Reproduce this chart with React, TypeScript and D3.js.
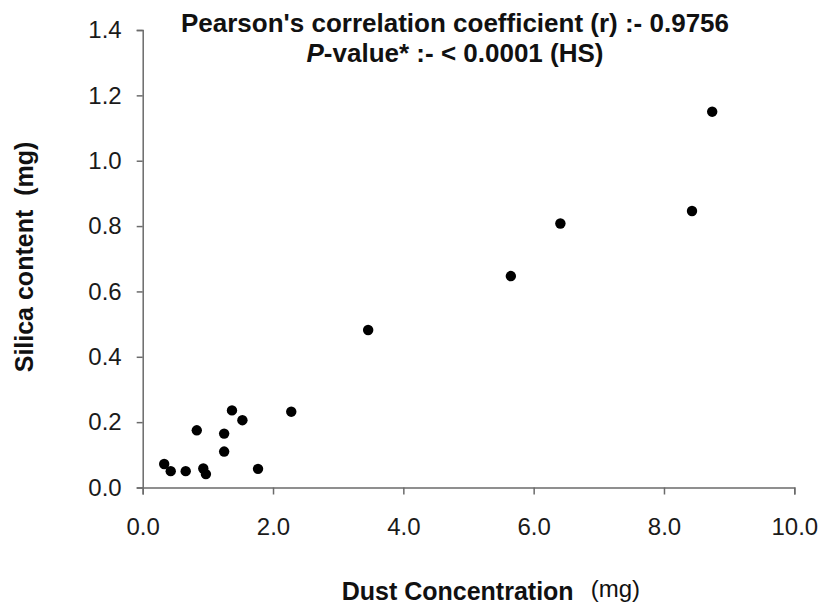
import React, { useEffect, useRef } from "react";
import * as d3 from "d3";

// dust concentration (mg) vs silica content (mg)
const dustConc = [
  0.33, 0.43, 0.66, 0.83, 0.93, 0.97, 1.25, 1.25, 1.37, 1.53, 1.77, 2.28,
  3.46, 5.65, 6.41, 8.43, 8.74,
];
const silica = [
  0.072, 0.05, 0.05, 0.175, 0.058, 0.041, 0.165, 0.11, 0.236, 0.206, 0.057,
  0.232, 0.482, 0.647, 0.808, 0.846, 1.15,
];
const xTicks = [0, 2, 4, 6, 8, 10];
const yTicks = [0, 0.2, 0.4, 0.6, 0.8, 1.0, 1.2, 1.4];

const App = () => {
  const svgRef = useRef<SVGSVGElement>(null);

  useEffect(() => {
    const width = 822;
    const height = 604;
    const font = "'Liberation Sans', Arial, sans-serif";
    const axisColor = "#6b6b6b";

    const x = d3.scaleLinear([0, 10], [142.7, 794.3]);
    const y = d3.scaleLinear([0, 1.4], [487.5, 30]);

    const svg = d3.select(svgRef.current);
    svg.selectAll("*").remove();
    svg.attr("width", width).attr("height", height);

    // x axis
    svg
      .append("g")
      .attr("transform", `translate(0,${y(0)})`)
      .call(
        d3
          .axisBottom(x)
          .tickValues(xTicks)
          .tickFormat(d3.format(".1f"))
          .tickSizeOuter(0)
          .tickSize(7)
          .tickPadding(23)
      )
      .call((g) => g.select(".domain").attr("stroke", axisColor).attr("stroke-width", 1.5))
      .call((g) => g.selectAll(".tick line").attr("stroke", axisColor).attr("stroke-width", 1.5))
      .call((g) =>
        g
          .selectAll(".tick text")
          .attr("font-family", font)
          .attr("font-size", 24)
          .attr("fill", "#1a1a1a")
      );

    // y axis
    svg
      .append("g")
      .attr("transform", `translate(${x(0)},0)`)
      .call(
        d3
          .axisLeft(y)
          .tickValues(yTicks)
          .tickFormat(d3.format(".1f"))
          .tickSizeOuter(0)
          .tickSize(6)
          .tickPadding(15)
      )
      .call((g) => g.select(".domain").attr("stroke", axisColor).attr("stroke-width", 1.5))
      .call((g) => g.selectAll(".tick line").attr("stroke", axisColor).attr("stroke-width", 1.5))
      .call((g) =>
        g
          .selectAll(".tick text")
          .attr("font-family", font)
          .attr("font-size", 24)
          .attr("fill", "#1a1a1a")
      );

    // points
    svg
      .append("g")
      .selectAll("circle")
      .data(dustConc)
      .join("circle")
      .attr("cx", (d) => x(d))
      .attr("cy", (_, i) => y(silica[i]))
      .attr("r", 5.2)
      .attr("fill", "#000");

    // title
    const title = svg
      .append("text")
      .attr("text-anchor", "middle")
      .attr("font-family", font)
      .attr("font-weight", "bold")
      .attr("font-size", 26)
      .attr("fill", "#111");
    title
      .append("tspan")
      .attr("x", 455)
      .attr("y", 31.5)
      .text("Pearson's correlation coefficient (r) :- 0.9756");
    const line2 = title.append("tspan").attr("x", 455).attr("y", 62);
    line2.append("tspan").attr("font-style", "italic").text("P");
    line2.append("tspan").text("-value* :- < 0.0001 (HS)");

    // x title
    const xt = svg
      .append("text")
      .attr("x", 341.7)
      .attr("y", 600)
      .attr("font-family", font)
      .attr("font-size", 25)
      .attr("fill", "#111");
    xt.append("tspan").attr("font-weight", "bold").text("Dust Concentration");
    xt.append("tspan").attr("dx", 17).attr("dy", -3).attr("font-size", 24).text("(mg)");

    // y title
    svg
      .append("text")
      .attr("transform", `translate(33,257) rotate(-90)`)
      .attr("text-anchor", "middle")
      .attr("font-family", font)
      .attr("font-weight", "bold")
      .attr("font-size", 25)
      .attr("fill", "#111")
      .attr("xml:space", "preserve")
      .style("white-space", "pre")
      .text("Silica content  (mg)");
  }, []);

  return (
    <div style={{ position: "absolute", left: 0, top: 0, background: "#fff" }}>
      <svg ref={svgRef} style={{ display: "block" }} />
    </div>
  );
};

export default App;
